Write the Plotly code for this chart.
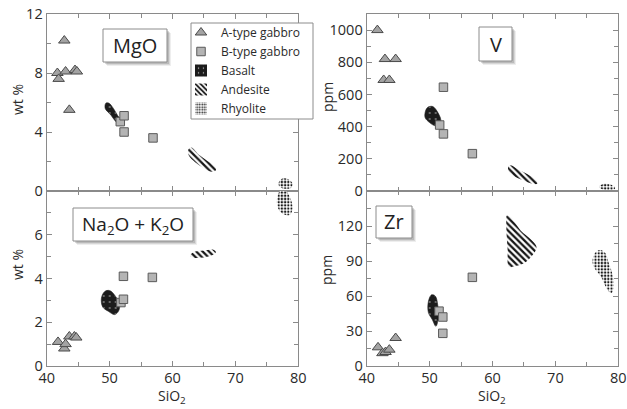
import plotly.graph_objects as go

W, H = 627, 409

# ---------------- data ----------------
SIO2_RANGE = [40, 80]
X_TICKS = [40, 50, 60, 70, 80]
MGO_TICKS = [0, 4, 8, 12]
ALK_TICKS = [0, 2, 4, 6]
V_TICKS = [0, 200, 400, 600, 800, 1000]
ZR_TICKS = [0, 30, 60, 90, 120]

# A-type gabbro (triangles)
A_MGO_X = [41.7, 41.9, 42.8, 43.0, 43.6, 44.5, 44.8]
A_MGO_Y = [8.0, 7.6, 10.2, 8.1, 5.5, 8.2, 8.1]
A_V_X = [41.7, 42.9, 44.6, 42.7, 43.6]
A_V_Y = [1000, 820, 820, 690, 690]
A_ALK_X = [41.8, 42.8, 43.0, 43.6, 44.4, 44.7]
A_ALK_Y = [1.1, 0.8, 1.0, 1.35, 1.35, 1.3]
A_ZR_X = [41.8, 42.5, 43.0, 43.6, 44.6]
A_ZR_Y = [16, 11, 12, 14, 24]

# B-type gabbro (squares)
B_MGO_X = [51.7, 52.3, 52.3, 56.9]
B_MGO_Y = [4.7, 5.1, 4.0, 3.6]
B_V_X = [52.2, 51.6, 52.2, 56.8]
B_V_Y = [645, 410, 355, 232]
B_ALK_X = [51.8, 52.2, 52.2, 56.8]
B_ALK_Y = [2.9, 3.05, 4.1, 4.05]
B_ZR_X = [51.5, 52.1, 52.1, 56.8]
B_ZR_Y = [47, 42, 28, 76]

# Basalt fields (outline vertices)
BAS_MGO_X = [49.4, 49.9, 50.6, 51.3, 51.9, 51.8, 51.0, 50.2, 49.3]
BAS_MGO_Y = [5.95, 5.95, 5.6, 5.1, 4.75, 4.45, 4.7, 5.15, 5.6]
BAS_V_X = [49.3, 49.7, 50.5, 51.2, 51.8, 51.6, 50.9, 50.0, 49.3]
BAS_V_Y = [490, 520, 525, 495, 440, 410, 405, 425, 455]
BAS_ALK_X = [48.7, 49.2, 50.0, 50.9, 51.6, 51.4, 50.8, 49.8, 48.9]
BAS_ALK_Y = [3.1, 3.4, 3.45, 3.2, 2.8, 2.5, 2.35, 2.5, 2.7]
BAS_ZR_X = [49.8, 50.3, 50.9, 51.3, 51.4, 51.0, 50.4, 49.8]
BAS_ZR_Y = [55, 61, 60, 52, 42, 34, 40, 46]

# Andesite fields
AND_MGO_X = [62.5, 63.0, 64.2, 65.5, 66.7, 66.9, 66.3, 65.0, 63.6, 62.6]
AND_MGO_Y = [2.8, 2.95, 2.45, 2.05, 1.7, 1.4, 1.3, 1.55, 1.95, 2.4]
AND_V_X = [62.5, 62.9, 64.0, 65.5, 67.0, 67.1, 66.3, 64.8, 63.4, 62.6]
AND_V_Y = [150, 160, 135, 105, 65, 45, 45, 68, 92, 120]
AND_ALK_X = [62.8, 63.5, 65.0, 66.5, 66.9, 66.2, 64.5, 63.3]
AND_ALK_Y = [5.05, 5.22, 5.28, 5.32, 5.2, 5.05, 4.95, 4.95]
AND_ZR_X = [62.3, 63.0, 64.5, 66.2, 67.0, 66.5, 65.0, 63.5, 62.6, 62.4, 62.2]
AND_ZR_Y = [129, 127, 116, 108, 102, 96, 88, 85.5, 85, 100, 120]

# Rhyolite fields
RHY_MGO_X = [76.9, 77.5, 78.4, 79.1, 78.8, 77.8, 77.0]
RHY_MGO_Y = [0.6, 0.85, 0.8, 0.5, 0.2, 0.15, 0.3]
RHY_V_X = [77.0, 77.8, 78.8, 79.5, 79.2, 78.0, 77.2]
RHY_V_Y = [30, 45, 40, 20, 5, 5, 15]
RHY_ALK_X = [76.6, 77.1, 78.0, 78.7, 79.1, 78.6, 77.6, 76.8]
RHY_ALK_Y = [7.6, 8.0, 8.0, 7.7, 7.2, 6.9, 6.95, 7.2]
RHY_ZR_X = [75.9, 76.3, 77.1, 77.9, 78.5, 79.1, 79.3, 78.9, 78.2, 77.3, 76.2]
RHY_ZR_Y = [90, 97, 99.5, 97, 88, 78, 68, 62.5, 66, 76, 84]

LEGEND_NAMES = ["A-type gabbro", "B-type gabbro", "Basalt", "Andesite", "Rhyolite"]

# ---------------- styling ----------------
AXC = "#8a8a8a"
TXT = "#2a2a2a"
FONT = "Open Sans"


def px(x):
    return x / W


def py(y):
    return 1 - y / H


BAS_PAT = dict(shape=".", bgcolor="#1c1c1c", fgcolor="#d8d8d8", size=6,
               solidity=0.05, fillmode="replace")
AND_PAT = dict(shape="\\", bgcolor="#ffffff", fgcolor="#151515", size=4.5,
               solidity=0.5, fillmode="replace")
RHY_PAT = dict(shape=".", bgcolor="#ffffff", fgcolor="#1a1a1a", size=3.2,
               solidity=0.4, fillmode="replace")

fig = go.Figure()

panels = [
    ("x", "y", BAS_MGO_X, BAS_MGO_Y, AND_MGO_X, AND_MGO_Y, RHY_MGO_X, RHY_MGO_Y,
     A_MGO_X, A_MGO_Y, B_MGO_X, B_MGO_Y),
    ("x2", "y2", BAS_V_X, BAS_V_Y, AND_V_X, AND_V_Y, RHY_V_X, RHY_V_Y,
     A_V_X, A_V_Y, B_V_X, B_V_Y),
    ("x3", "y3", BAS_ALK_X, BAS_ALK_Y, AND_ALK_X, AND_ALK_Y, RHY_ALK_X, RHY_ALK_Y,
     A_ALK_X, A_ALK_Y, B_ALK_X, B_ALK_Y),
    ("x4", "y4", BAS_ZR_X, BAS_ZR_Y, AND_ZR_X, AND_ZR_Y, RHY_ZR_X, RHY_ZR_Y,
     A_ZR_X, A_ZR_Y, B_ZR_X, B_ZR_Y),
]


def closed(v):
    return list(v) + [v[0]]


for (xa, ya, bx, by, ax_, ay_, rx, ry, tx, ty, sx, sy) in panels:
    for fx, fy, pat, lc in [(bx, by, BAS_PAT, "#1c1c1c"),
                            (ax_, ay_, AND_PAT, "rgba(0,0,0,0)"),
                            (rx, ry, RHY_PAT, "rgba(0,0,0,0)")]:
        fig.add_trace(go.Scatter(
            x=closed(fx), y=closed(fy), mode="lines", fill="toself",
            line=dict(shape="spline", width=0.6, color=lc, smoothing=1.0),
            fillpattern=pat, fillcolor=pat["bgcolor"], showlegend=False,
            hoverinfo="skip", xaxis=xa, yaxis=ya))
    fig.add_trace(go.Scatter(
        x=tx, y=ty, mode="markers", showlegend=(xa == "x"),
        name=LEGEND_NAMES[0], legendrank=1,
        marker=dict(symbol="triangle-up", size=10, color="#a3a3a3",
                    line=dict(color="#4a4a4a", width=1)),
        xaxis=xa, yaxis=ya))
    fig.add_trace(go.Scatter(
        x=sx, y=sy, mode="markers", showlegend=(xa == "x"),
        name=LEGEND_NAMES[1], legendrank=2,
        marker=dict(symbol="square", size=8.5, color="#b4b4b4",
                    line=dict(color="#5a5a5a", width=1)),
        xaxis=xa, yaxis=ya))

# legend-only entries for the fields (patterned square icons)
for name, pat, rank in [(LEGEND_NAMES[2], BAS_PAT, 3),
                        (LEGEND_NAMES[3], AND_PAT, 4),
                        (LEGEND_NAMES[4], RHY_PAT, 5)]:
    fig.add_trace(go.Bar(
        x=[None], y=[None], name=name, legendrank=rank, showlegend=True,
        marker=dict(color=pat["bgcolor"], pattern=pat,
                    line=dict(width=0)),
        xaxis="x", yaxis="y"))

# ---------------- axes ----------------
XL = [px(46.7), px(298.3)]
XR = [px(366.7), px(618.3)]
YT = [py(191), py(14)]
YB = [py(366), py(191)]

tickfont = dict(family=FONT, size=14.5, color=TXT)


def xaxis(domain, anchor, labels):
    return dict(domain=domain, anchor=anchor, range=SIO2_RANGE,
                tickmode="array", tickvals=X_TICKS, showticklabels=labels,
                showline=True, linecolor=AXC, linewidth=1.2, mirror="ticks",
                ticks="inside", ticklen=5, tickcolor=AXC, tickwidth=1,
                ticklabelstandoff=-2,
                minor=dict(dtick=5, tick0=40, ticks="inside", ticklen=4,
                           tickcolor=AXC, tickwidth=1),
                showgrid=False, zeroline=False, tickfont=tickfont,
                automargin=False, fixedrange=True)


def yaxis(domain, anchor, rng, tickvals, minor_dtick):
    return dict(domain=domain, anchor=anchor, range=rng,
                tickmode="array", tickvals=tickvals,
                showline=True, linecolor=AXC, linewidth=1.2, mirror="ticks",
                ticks="inside", ticklen=5, tickcolor=AXC, tickwidth=1,
                minor=dict(dtick=minor_dtick, tick0=0, ticks="inside", ticklen=4,
                           tickcolor=AXC, tickwidth=1),
                showgrid=False, zeroline=False, tickfont=tickfont,
                automargin=False, fixedrange=True)


# ---------------- label boxes ----------------
shapes = []
annotations = []
boxes = [
    ((103, 29, 167, 62), "MgO", 20),
    ((479, 27, 512, 61), "V", 20),
    ((73, 208, 193, 241), "Na<sub>2</sub>O + K<sub>2</sub>O", 19),
    ((376, 206, 412, 238), "Zr", 20),
]
for (x0, y0, x1, y1), txt, fs in boxes:
    for off, op in [(4, 0.10), (3, 0.15), (2, 0.22)]:
        shapes.append(dict(type="rect", xref="paper", yref="paper",
                           x0=px(x0 + off), x1=px(x1 + off),
                           y0=py(y1 + off), y1=py(y0 + off),
                           line=dict(width=0), fillcolor="#555555",
                           opacity=op, layer="above"))
    shapes.append(dict(type="rect", xref="paper", yref="paper",
                       x0=px(x0), x1=px(x1), y0=py(y1), y1=py(y0),
                       line=dict(color="#8c8c8c", width=1),
                       fillcolor="white", layer="above"))
    annotations.append(dict(xref="paper", yref="paper",
                            x=px((x0 + x1) / 2), y=py((y0 + y1) / 2),
                            text=txt, showarrow=False,
                            xanchor="center", yanchor="middle",
                            font=dict(family=FONT, size=fs, color="#222222")))

# legend frame
shapes.append(dict(type="rect", xref="paper", yref="paper",
                   x0=px(191), x1=px(313), y0=py(119), y1=py(23),
                   line=dict(color="#8c8c8c", width=1),
                   fillcolor="white", layer="above"))

# axis titles
for x, y, txt, ang in [(17, 100, "wt %", -90), (17, 265, "wt %", -90),
                       (327, 97, "ppm", -90), (326, 270, "ppm", -90),
                       (172, 396, "SiO<sub>2</sub>", 0),
                       (492, 396, "SiO<sub>2</sub>", 0)]:
    annotations.append(dict(xref="paper", yref="paper", x=px(x), y=py(y),
                            text=txt, showarrow=False, textangle=ang,
                            xanchor="center", yanchor="middle",
                            font=dict(family=FONT, size=14, color=TXT)))

fig.update_layout(
    width=W, height=H, margin=dict(l=0, r=0, t=0, b=0, autoexpand=False),
    paper_bgcolor="white", plot_bgcolor="white",
    xaxis=xaxis(XL, "y", False), yaxis=yaxis(YT, "x", [0, 12], MGO_TICKS, 2),
    xaxis2=xaxis(XR, "y2", False), yaxis2=yaxis(YT, "x2", [0, 1100], V_TICKS, 100),
    xaxis3=xaxis(XL, "y3", True), yaxis3=yaxis(YB, "x3", [0, 8], ALK_TICKS, 1),
    xaxis4=xaxis(XR, "y4", True), yaxis4=yaxis(YB, "x4", [0, 150], ZR_TICKS, 15),
    shapes=shapes, annotations=annotations,
    showlegend=True,
    legend=dict(x=px(181), y=py(18), xanchor="left", yanchor="top",
                bgcolor="rgba(0,0,0,0)", borderwidth=0,
                font=dict(family=FONT, size=12, color=TXT),
                tracegroupgap=0, itemwidth=30, traceorder="normal"),
    barmode="overlay",
)

fig.write_html(
    "out.html",
    config={"displayModeBar": False},
    post_script="document.body.style.margin='0';"
                "document.body.style.overflow='hidden';",
)
